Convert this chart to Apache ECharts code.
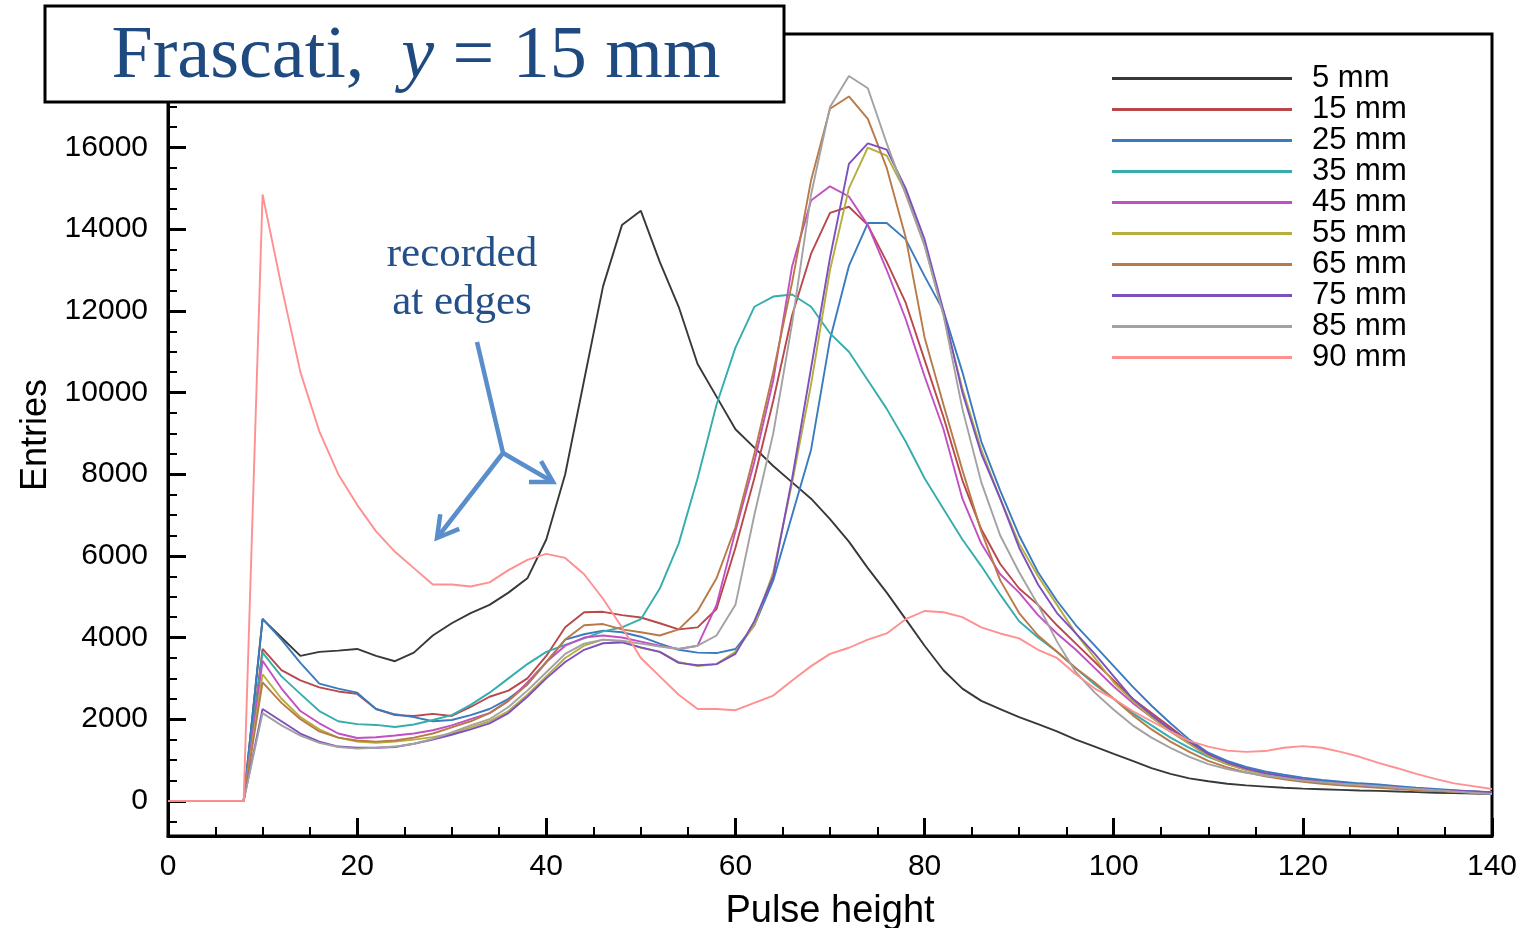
<!DOCTYPE html>
<html>
<head>
<meta charset="utf-8">
<script src="https://cdn.jsdelivr.net/npm/echarts@6/dist/echarts.min.js"></script>
<style>
html,body{margin:0;padding:0;background:#fff;}
#chart{width:1521px;height:928px;}
</style>
</head>
<body>
<div id="chart"></div>
<script>
// Pulse height (x) sampling points
const pulseHeight = [0,2,4,6,8,10,12,14,16,18,20,22,24,26,28,30,32,34,36,38,40,42,44,46,48,50,52,54,56,58,60,62,64,66,68,70,72,74,76,78,80,82,84,86,88,90,92,94,96,98,100,102,104,106,108,110,112,114,116,118,120,122,124,126,128,130,132,134,136,138,140];

const seriesNames = ['5 mm','15 mm','25 mm','35 mm','45 mm','55 mm','65 mm','75 mm','85 mm','90 mm'];

const mm5 = [0,0,0,0,0,
  4450,4000,3550,3650,3680, 3720,3550,3420,3630,4050, 4350,4600,4800,5100,5450,
  6400,8000,10300,12600,14100, 14450,13200,12100,10700,9900, 9100,8650,8200,7800,7400,
  6900,6350,5700,5100,4450, 3800,3200,2750,2450,2250, 2050,1880,1700,1500,1330,
  1150,980,800,660,550, 480,420,380,350,320, 300,285,270,255,245, 230,215,200,190,180, 170];

const mm15 = [0,0,0,0,0,
  3720,3200,2950,2780,2680, 2620,2250,2100,2080,2130, 2080,2300,2550,2700,3000,
  3550,4250,4620,4630,4550, 4490,4350,4200,4250,4700, 6200,7900,9800,11900,13400,
  14400,14550,14100,13200,12200, 10800,9400,7850,6650,5800, 5200,4800,4300,3850,3400,
  2950,2500,2150,1800,1450, 1120,920,780,670,590, 520,470,430,390,360, 330,300,270,250,230, 210];

const mm25 = [0,0,0,0,0,
  4460,3950,3380,2870,2750, 2650,2250,2120,2050,1950, 1980,2100,2250,2500,2850,
  3400,3950,4080,4170,4130, 4020,3850,3700,3630,3620, 3720,4300,5400,7000,8600,
  11300,13100,14150,14150,13750, 12850,12000,10500,8800,7600, 6500,5600,4900,4300,3800,
  3300,2800,2330,1900,1500, 1180,980,830,720,640, 570,510,470,430,400, 360,320,290,260,230, 200];

const mm35 = [0,0,0,0,0,
  3630,3050,2620,2200,1950, 1880,1860,1810,1870,1980, 2100,2350,2650,3000,3350,
  3650,3820,3980,4150,4250, 4450,5200,6300,7900,9700, 11100,12100,12350,12400,12100,
  11450,11000,10300,9600,8800, 7900,7150,6400,5750,5050, 4400,4000,3650,3250,2850,
  2500,2150,1850,1550,1300, 1080,900,770,670,590, 520,470,420,380,350, 320,290,260,240,220, 200];

const mm45 = [0,0,0,0,0,
  3430,2750,2200,1900,1650, 1540,1560,1600,1650,1730, 1850,2000,2150,2450,2900,
  3400,3800,4000,4050,4000, 3900,3800,3720,3800,4800, 6600,8300,10300,13100,14700,
  15050,14800,14100,13000,11800, 10400,9100,7400,6300,5550, 5100,4550,4100,3700,3250,
  2800,2400,2050,1700,1400, 1100,900,760,660,580, 510,460,420,380,350, 320,290,260,240,220, 200];

const mm55 = [0,0,0,0,0,
  3100,2500,2050,1750,1550, 1450,1420,1450,1500,1560, 1650,1800,1950,2200,2600,
  3050,3500,3800,3950,3900, 3750,3650,3400,3300,3350, 3650,4300,5600,7800,10200,
  13000,15000,16000,15800,14900, 13600,11900,10100,8600,7400, 6300,5500,4800,4100,3500,
  2900,2450,2050,1700,1400, 1100,900,760,650,570, 500,450,410,370,340, 310,280,250,230,210, 190];

const mm65 = [0,0,0,0,0,
  2900,2400,2000,1700,1550, 1480,1450,1480,1550,1650, 1800,1950,2150,2450,2850,
  3400,3950,4300,4330,4200, 4130,4050,4200,4650,5450, 6700,8500,10500,12700,15200,
  16950,17250,16700,15500,13800, 11350,9700,8100,6600,5400, 4600,4050,3650,3250,2900,
  2500,2100,1750,1450,1200, 980,820,700,600,530, 470,420,380,350,320, 290,260,240,220,200, 180];

const mm75 = [0,0,0,0,0,
  2250,1950,1650,1450,1330, 1300,1300,1320,1400,1500, 1620,1750,1900,2150,2550,
  3000,3400,3700,3860,3880, 3760,3650,3380,3320,3350, 3600,4400,5500,7900,10600,
  13300,15600,16100,15950,15000, 13750,12000,10000,8500,7400, 6200,5300,4600,4100,3600,
  3050,2500,2100,1750,1450, 1150,940,790,680,600, 530,470,430,390,360, 330,300,270,250,230, 210];

const mm85 = [0,0,0,0,0,
  2150,1850,1600,1420,1320, 1280,1300,1330,1400,1520, 1680,1850,2000,2300,2700,
  3150,3600,3850,3950,3920, 3850,3780,3720,3800,4050, 4800,7000,9000,11700,14850,
  16990,17750,17450,16100,14850, 13600,11900,9600,7800,6500, 5600,4800,3900,3150,2650,
  2230,1850,1550,1300,1080, 900,780,690,620,560, 500,460,420,390,360, 320,290,260,230,200, 170];

const mm90 = [0,0,0,0,0,
  14850,12600,10500,9050,8000, 7250,6600,6100,5700,5300, 5300,5250,5350,5650,5900,
  6050,5950,5550,4950,4250, 3500,3050,2600,2250,2250, 2220,2400,2580,2950,3300,
  3600,3750,3950,4100,4450, 4650,4620,4500,4250,4100, 3980,3700,3500,3100,2750,
  2500,2200,1950,1700,1470, 1330,1230,1200,1220,1300, 1340,1300,1200,1080,930, 800,660,540,430,360, 290];

const seriesValues = [mm5, mm15, mm25, mm35, mm45, mm55, mm65, mm75, mm85, mm90];
const seriesColors = ['#383838','#b8484a','#3a7bbf','#35adad','#c24fc4','#b5ae3e','#b87a48','#7d50bf','#a2a2a2','#ff9090'];

const xTicks = { min: 0, max: 140, step: 20 };

const sansFont = '"Liberation Sans", Arial, Helvetica, sans-serif';
const serifFont = '"Liberation Serif", "Times New Roman", serif';

const chart = echarts.init(document.getElementById('chart'), null, { renderer: 'canvas' });

const series = seriesNames.map((name, i) => ({
  name: name,
  type: 'line',
  data: pulseHeight.map((x, j) => [x, seriesValues[i][j]]),
  showSymbol: false,
  symbol: 'none',
  lineStyle: { color: seriesColors[i], width: 1.9 },
  itemStyle: { color: seriesColors[i] },
  emphasis: { disabled: true },
  animation: false,
  z: 2
}));

// annotation arrow geometry (pixel space)
function arrowHead(tail, tip, len, angDeg) {
  const dx = tail[0] - tip[0], dy = tail[1] - tip[1];
  const L = Math.hypot(dx, dy);
  const ux = dx / L, uy = dy / L;
  const a = angDeg * Math.PI / 180;
  const w1 = [tip[0] + len * (ux * Math.cos(a) - uy * Math.sin(a)), tip[1] + len * (ux * Math.sin(a) + uy * Math.cos(a))];
  const w2 = [tip[0] + len * (ux * Math.cos(-a) - uy * Math.sin(-a)), tip[1] + len * (ux * Math.sin(-a) + uy * Math.cos(-a))];
  return [w1, tip, w2];
}
const stemTop = [477, 342], junction = [503, 453], tipL = [437, 538], tipR = [553, 482];
const arrowColor = '#5a8ecb';

const option = {
  backgroundColor: '#ffffff',
  animation: false,
  grid: {
    left: 168, right: 29, top: 34, bottom: 92,
    outerBoundsMode: 'none',
    containLabel: false,
    show: true, borderColor: '#000', borderWidth: 3, backgroundColor: 'transparent'
  },
  legend: {
    orient: 'vertical',
    left: 1107, top: 58,
    icon: 'rect',
    itemWidth: 180, itemHeight: 3,
    itemGap: 0,
    selectedMode: false,
    data: seriesNames,
    textStyle: { fontFamily: sansFont, fontSize: 31, lineHeight: 31, color: '#000', padding: [0, 0, 0, 15] }
  },
  xAxis: {
    type: 'value',
    min: xTicks.min, max: xTicks.max, interval: xTicks.step,
    name: 'Pulse height',
    nameLocation: 'middle',
    nameGap: 57,
    nameTextStyle: { fontFamily: sansFont, fontSize: 38, color: '#000' },
    axisLine: { show: true, onZero: false, lineStyle: { color: '#000', width: 3 } },
    axisTick: { show: true, inside: true, length: 18, lineStyle: { color: '#000', width: 3 } },
    minorTick: { show: true, splitNumber: 4, length: 9, lineStyle: { color: '#000', width: 2 } },
    axisLabel: { fontFamily: sansFont, fontSize: 30, color: '#000', margin: 16 },
    splitLine: { show: false },
    minorSplitLine: { show: false }
  },
  yAxis: {
    type: 'value',
    min: -860, max: 18780,
    splitNumber: 10,
    minInterval: 2000, maxInterval: 2000,
    name: 'Entries',
    nameLocation: 'middle',
    nameRotate: 90,
    nameGap: 111,
    nameTextStyle: { fontFamily: sansFont, fontSize: 36, color: '#000' },
    axisLine: { show: true, onZero: false, lineStyle: { color: '#000', width: 3 } },
    axisTick: { show: true, inside: true, length: 18, lineStyle: { color: '#000', width: 3 } },
    minorTick: { show: true, splitNumber: 4, length: 9, lineStyle: { color: '#000', width: 2 } },
    axisLabel: {
      fontFamily: sansFont, fontSize: 30, color: '#000', margin: 20,
      showMinLabel: false, showMaxLabel: false,
      formatter: function (v) { return String(v); }
    },
    splitLine: { show: false },
    minorSplitLine: { show: false }
  },
  series: series,
  graphic: [
    {
      type: 'rect', z: 100,
      shape: { x: 45, y: 6, width: 739, height: 96 },
      style: { fill: '#fff', stroke: '#000', lineWidth: 3 }
    },
    {
      type: 'text', z: 101,
      x: 416, y: 58,
      style: {
        text: '{n|Frascati,  }{i|y}{n| = 15 mm}',
        align: 'center', verticalAlign: 'middle',
        rich: {
          n: { fontFamily: serifFont, fontSize: 74, fill: '#1f4a80', color: '#1f4a80' },
          i: { fontFamily: serifFont, fontSize: 74, fontStyle: 'italic', fill: '#1f4a80', color: '#1f4a80' }
        }
      }
    },
    {
      type: 'text', z: 101,
      x: 462, y: 279,
      style: {
        text: 'recorded\nat edges',
        align: 'center', verticalAlign: 'middle',
        fontFamily: serifFont, fontSize: 43, lineHeight: 48,
        fill: '#24508a'
      }
    },
    {
      type: 'polyline', z: 101,
      shape: { points: [stemTop, junction, tipL] },
      style: { stroke: arrowColor, lineWidth: 4.5, fill: null, lineJoin: 'round' }
    },
    {
      type: 'polyline', z: 101,
      shape: { points: [junction, tipR] },
      style: { stroke: arrowColor, lineWidth: 4.5, fill: null }
    },
    {
      type: 'polyline', z: 101,
      shape: { points: arrowHead(junction, tipL, 24, 30) },
      style: { stroke: arrowColor, lineWidth: 4.5, fill: null, lineJoin: 'miter' }
    },
    {
      type: 'polyline', z: 101,
      shape: { points: arrowHead(junction, tipR, 24, 30) },
      style: { stroke: arrowColor, lineWidth: 4.5, fill: null, lineJoin: 'miter' }
    }
  ]
};

chart.setOption(option);
</script>
</body>
</html>
